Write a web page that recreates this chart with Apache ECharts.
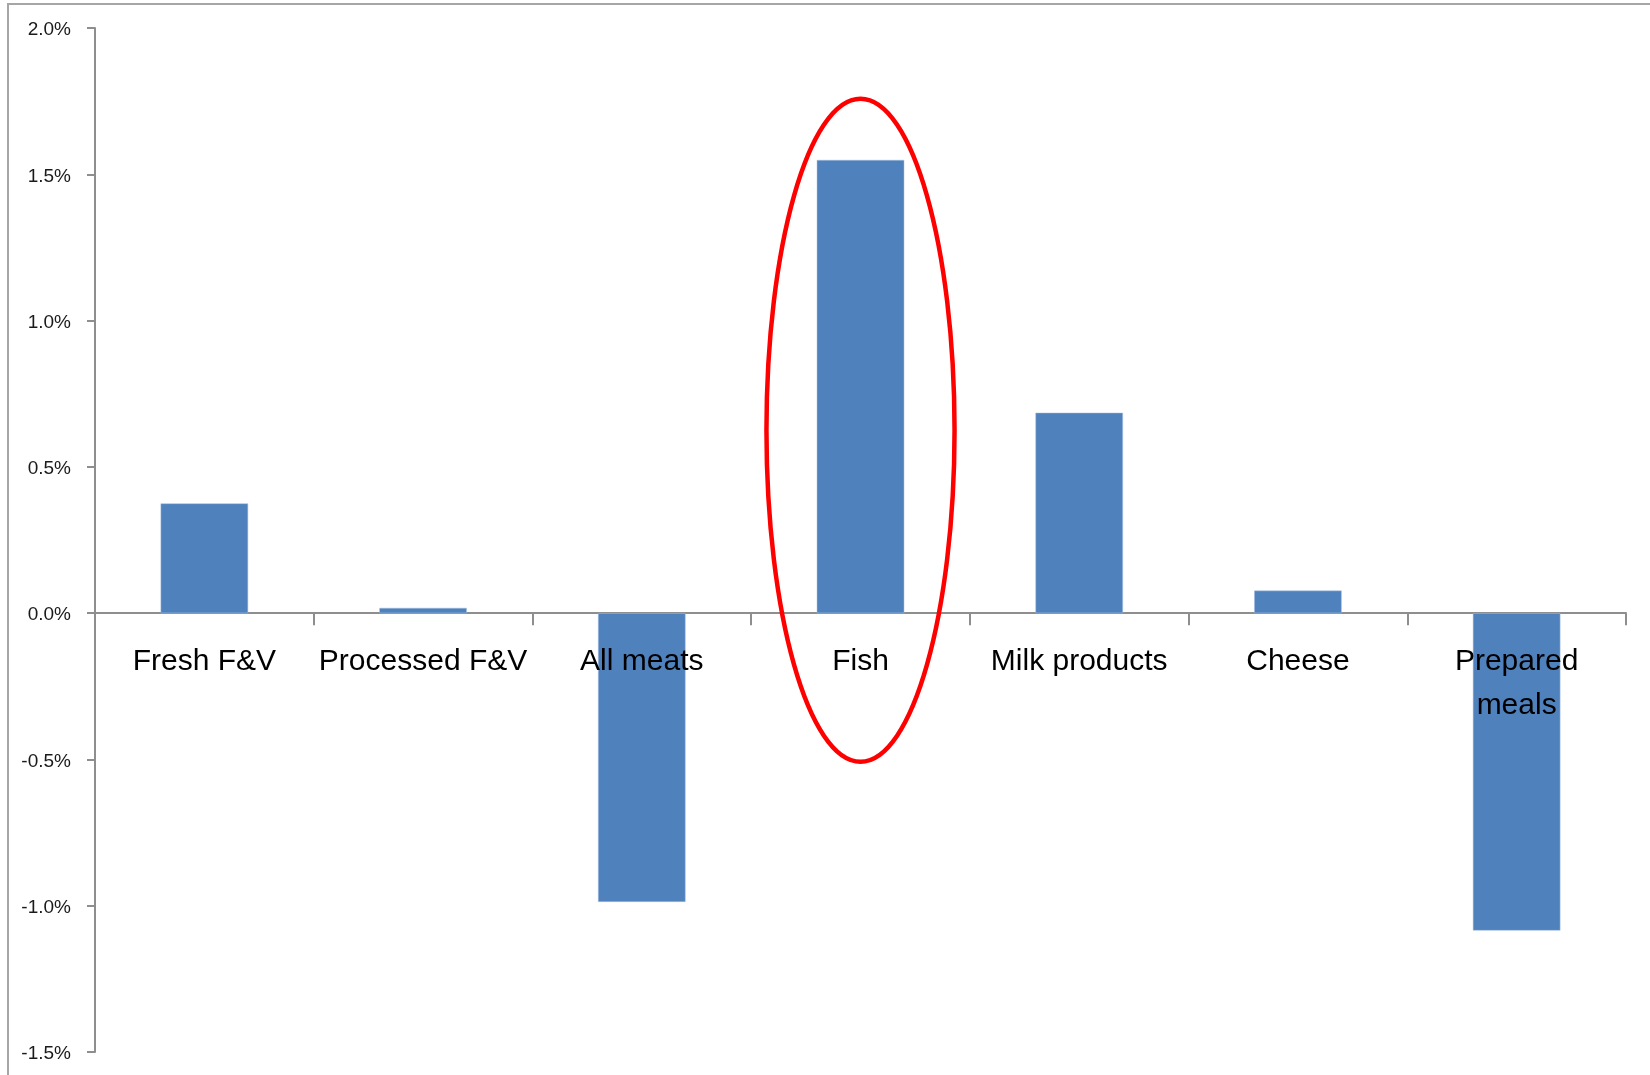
<!DOCTYPE html>
<html>
<head>
<meta charset="utf-8">
<script src="https://cdn.jsdelivr.net/npm/echarts@6/dist/echarts.min.js"></script>
<style>
    html, body {margin: 0; padding: 0; background: #fff;}
    #chart {width: 1650px; height: 1075px;}
</style>
</head>
<body>
<div id="chart"></div>
<script>
// data (percent change)
const categories = ['Fresh F&V', 'Processed F&V', 'All meats', 'Fish', 'Milk products', 'Cheese', 'Prepared meals'];
const changes = [0.375, 0.018, -0.987, 1.549, 0.685, 0.077, -1.085];
const yMin = -1.5;
const yMax = 2.0;
const yStep = 0.5;

// red ring around the Fish bar, in data units
const ringCategory = 'Fish';
const ringTop = 1.758;
const ringBottom = -0.508;
const ringHalfWidth = 0.43; // share of one category slot

const chart = echarts.init(document.getElementById('chart'));

const options = {
    animation: false,
    grid: {left: 95, right: 24, top: 28, bottom: 23, containLabel: false, outerBoundsMode: 'none'},
    xAxis: {
        type: 'category',
        data: categories,
        axisLine: {onZero: true, lineStyle: {color: '#8e8e8e', width: 2}},
        axisTick: {show: true, length: 12, lineStyle: {color: '#8e8e8e', width: 2}},
        axisLabel: {show: false}
    },
    yAxis: {
        type: 'value',
        min: yMin,
        max: yMax,
        interval: yStep,
        splitLine: {show: false},
        axisLine: {show: true, lineStyle: {color: '#8e8e8e', width: 2}},
        axisTick: {show: true, length: 8, lineStyle: {color: '#8e8e8e', width: 2}},
        axisLabel: {
            margin: 24,
            formatter: (v) => '{t|' + v.toFixed(1) + '%}',
            rich: {
                t: {
                    color: '#1a1a1a',
                    fontFamily: 'Liberation Sans',
                    fontSize: 19,
                    padding: [4, 0, 0, 0]
                }
            }
        }
    },
    series: [
        {
            type: 'bar',
            data: changes,
            barWidth: '40%',
            itemStyle: {color: '#4f81bd', borderColor: '#a9c1e0', borderWidth: 0.5}
        },
        {
            // category names sit just under the zero line, drawn over the bars
            type: 'custom',
            z: 5,
            silent: true,
            data: categories.map((c, i) => [i, 0]),
            renderItem: (params, api) => {
                const p = api.coord([api.value(0), api.value(1)]);
                const name = categories[api.value(0)];
                return {
                    type: 'text',
                    x: p[0],
                    y: p[1] + 27,
                    style: {
                        text: name === 'Prepared meals' ? 'Prepared\nmeals' : name,
                        fill: '#000',
                        font: '30px "Liberation Sans"',
                        align: 'center',
                        verticalAlign: 'top',
                        lineHeight: 44
                    }
                };
            }
        }
    ]
};

chart.setOption(options);

// place the ellipse and the outer frame using the axes
const cx = chart.convertToPixel({xAxisIndex: 0}, ringCategory);
const slot = chart.convertToPixel({xAxisIndex: 0}, categories[1]) - chart.convertToPixel({xAxisIndex: 0}, categories[0]);
const yTop = chart.convertToPixel({yAxisIndex: 0}, ringTop);
const yBottom = chart.convertToPixel({yAxisIndex: 0}, ringBottom);

chart.setOption({
    graphic: [
        {
            type: 'rect',
            shape: {x: 8, y: 4, width: 1700, height: 1100},
            style: {fill: 'none', stroke: '#a6a6a6', lineWidth: 2},
            silent: true
        },
        {
            type: 'ellipse',
            shape: {cx: cx, cy: (yTop + yBottom) / 2, rx: slot * ringHalfWidth, ry: (yBottom - yTop) / 2},
            style: {fill: 'none', stroke: '#ff0000', lineWidth: 4.5},
            silent: true,
            z: 100
        }
    ]
});
</script>
</body>
</html>
